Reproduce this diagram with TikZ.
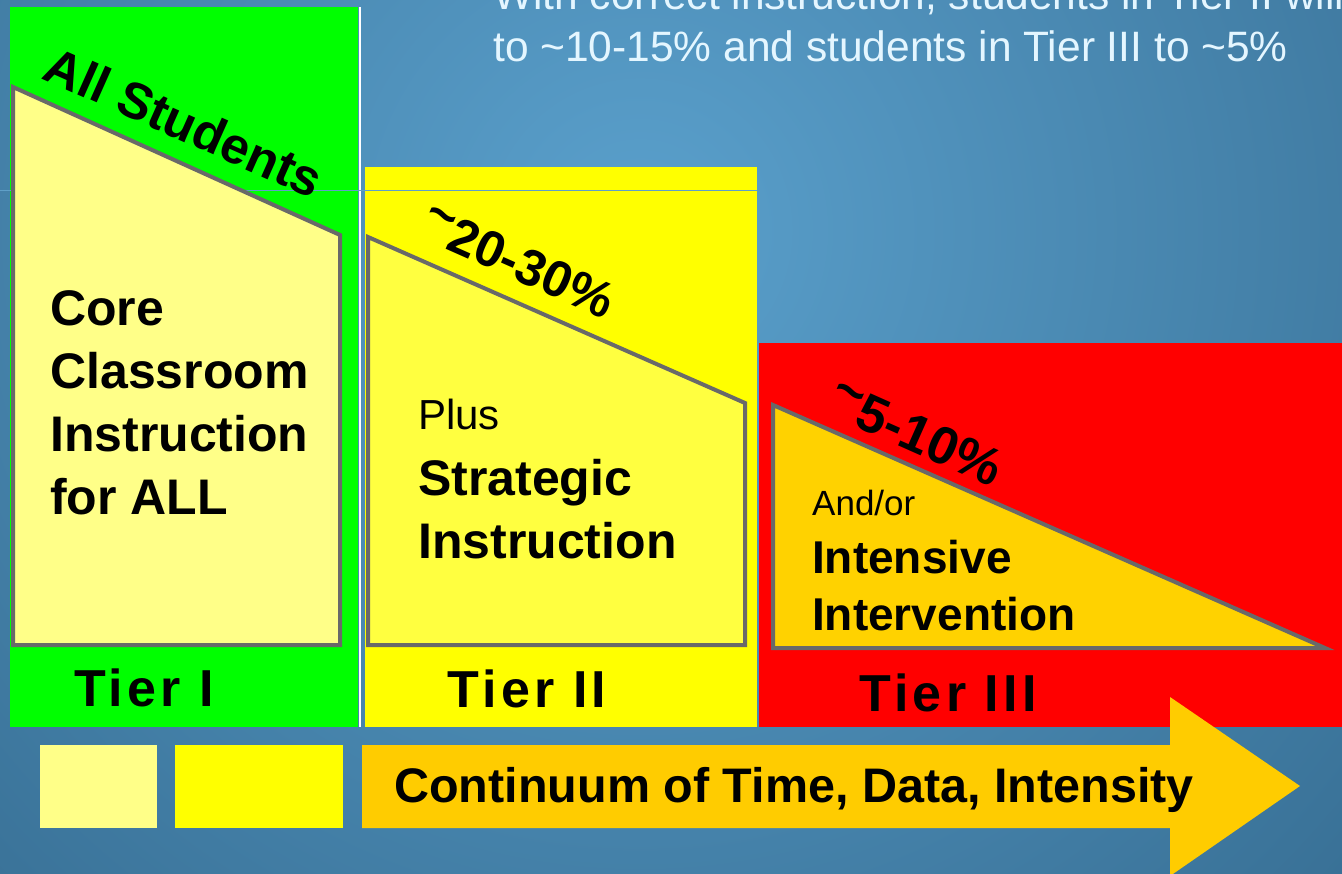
\documentclass[tikz,border=0pt]{standalone}
\usepackage{fontspec}
\setmainfont{Liberation Sans}
\definecolor{skylt}{RGB}{90,160,204}
\definecolor{skydk}{RGB}{38,86,120}
\definecolor{skyline}{RGB}{95,160,200}
\definecolor{captcol}{RGB}{228,246,255}
\definecolor{tierA}{RGB}{0,255,0}
\definecolor{tierB}{RGB}{255,255,0}
\definecolor{tierC}{RGB}{255,0,0}
\definecolor{paleA}{RGB}{255,255,136}
\definecolor{paleB}{RGB}{255,255,64}
\definecolor{paleC}{RGB}{255,210,0}
\definecolor{arrowcol}{RGB}{255,204,0}
\definecolor{edgegray}{RGB}{105,105,105}
\tikzset{ % looks of the pieces
    panel/.style={draw=edgegray, line width=4pt, line join=miter},
    bodytext/.style={anchor=north west, inner sep=0pt, align=left, font=\bfseries\fontsize{50}{63}\selectfont},
    slantlab/.style={rotate=-24, inner sep=0pt, font=\bfseries\fontsize{51}{51}\selectfont},
    tierlab/.style={inner sep=0pt, font=\bfseries\fontsize{52}{52}\selectfont\addfontfeature{LetterSpace=8}},
    captext/.style={anchor=base west, inner sep=0pt, text=captcol, font=\fontsize{42.5}{42.5}\selectfont},
}
\newcommand{\hitilde}{\raisebox{0.25em}{\textasciitilde}}

\begin{document}
\begin{tikzpicture}[x=1pt,y=-1pt]
		\useasboundingbox (0,0) rectangle (1342,874);
		\clip (0,0) rectangle (1342,874);
		\shade[inner color=skylt, outer color=skydk] (640,230) circle (1500);
		% tier panels
		\fill[tierA] (10,7) rectangle (358,727);
		\draw[white, line width=2pt] (359.5,7) -- (359.5,727);
		\fill[tierB] (365,167) rectangle (757,727);
		\fill[tierC] (759,343) rectangle (1342,727);
		\draw[skyline, line width=1pt] (0,191) -- (757,191);
		\filldraw[panel, fill=paleA] (13,87) -- (340,235) -- (340,645) -- (13,645) -- cycle;
		\filldraw[panel, fill=paleB] (368,237) -- (745,403) -- (745,645) -- (368,645) -- cycle;
		\filldraw[panel, fill=paleC] (773,405) -- (1325,648) -- (773,648) -- cycle;
		% caption at the top
		\node[captext] (note1) at (493,10) {With correct instruction, students in Tier II will};
		\node[captext] (note2) at (493,62) {to \textasciitilde10-15\% and students in Tier III to \textasciitilde5\%};
		% slanted shares
		\node[slantlab] (allst) at (184,122) {All Students};
		\node[slantlab] (shareB) at (518,262) {\hitilde20-30\%};
		\node[slantlab, font=\bfseries\fontsize{53}{53}\selectfont] (shareC) at (916,434) {\hitilde5-10\%};
		% contents
		\node[bodytext] (core) at (50,290) {Core\\Classroom\\Instruction\\for ALL};
		\node[bodytext, font=\fontsize{42}{42}\selectfont] (plus) at (418,399) {Plus};
		\node[bodytext] (strat) at (418,459) {Strategic\\Instruction};
		\node[bodytext, font=\fontsize{35}{35}\selectfont] (andor) at (812,490) {And/or};
		\node[bodytext, font=\bfseries\fontsize{46}{57}\selectfont] (inten) at (812,540) {Intensive\\Intervention};
		\foreach \lab/\px/\py [count=\i] in {Tier I/144/688, Tier II/527/689, Tier III/948/693}{
			\node[tierlab] (tier\i) at (\px,\py) {\lab};
		}
		% continuum arrow
		\fill[paleA] (40,745) rectangle (157,828);
		\fill[tierB] (175,745) rectangle (343,828);
		\fill[arrowcol] (362,745) -- (1170,745) -- (1170,697) -- (1300,786) -- (1170,876) -- (1170,828) -- (362,828) -- cycle;
		\node[inner sep=0pt, font=\bfseries\fontsize{48.5}{48.5}\selectfont] (cont) at (794,790) {Continuum of Time, Data, Intensity};
	\end{tikzpicture}
\end{document}
